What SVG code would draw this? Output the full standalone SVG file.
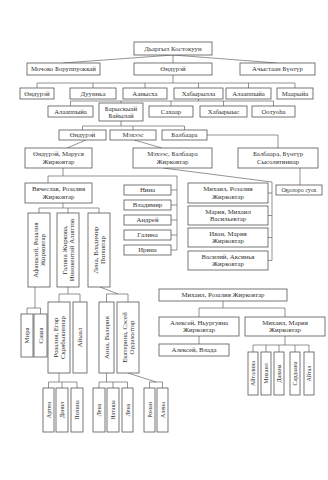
<svg xmlns="http://www.w3.org/2000/svg" width="328" height="480" viewBox="0 0 328 480">
<style>
rect{fill:#fff;stroke:#555;stroke-width:0.8}
text{font-family:"Liberation Serif","Times New Roman",serif;font-size:6.8px;fill:#333;text-anchor:middle}
.s{font-size:6px}
#connectors path{fill:none;stroke:#666;stroke-width:0.7}
</style>
<rect x="0" y="0" width="328" height="480" style="stroke:none"/>
<g id="connectors">
<path d="M173,55 L63,63 M173,55 V63 M173,55 L277,63"/>
<path d="M173,75 V83 M37,83 H295 M37,83 V88 M93,83 V88 M145,83 V88 M198.5,83 V88 M248.5,83 V88 M295,83 V88"/>
<path d="M198.5,99 V101 M70.5,101 H273.5 M70.5,101 V106 M121,101 V103 M171,101 V106 M223.5,101 V106 M273.5,101 V106"/>
<path d="M121,121 V126 M82.5,126 H184.5 M82.5,126 V130 M133,126 V130 M184.5,126 V130"/>
<path d="M207,135 H278 V148"/>
<path d="M86,140 L67,148 M134,140 L162,148"/>
<path d="M63,168 V176 M48,176 H177 M48,176 V183 M177,176 V250 M171,190 H177 M171,205 H177 M171,220 H177 M171,235 H177 M171,250 H177"/>
<path d="M163,168 L272,182 V260.5 M268,193 H272 M268,215.5 H272 M268,237.5 H272 M268,260.5 H272"/>
<path d="M300,168 V185"/>
<path d="M63,203 V208 M39,208 H99 M39,208 V213 M68,208 V213 M99,208 V213"/>
<path d="M35,287 V308 M27,308 H40.5 M27,308 V314 M40.5,308 V314"/>
<path d="M68,287 V294 M59,294 H80 M59,294 V302 M80,294 V302"/>
<path d="M100,287 L118,294 M106.5,294 H128 M106.5,294 V302 M128,294 V302"/>
<path d="M59,373 V382 M48.5,382 H77 M48.5,382 V388 M62,382 V388 M77,382 V388"/>
<path d="M106.5,373 V382 M99,382 H127.5 M99,382 V388 M113,382 V388 M127.5,382 V388"/>
<path d="M128,373 L156,382 M149.5,382 H162.5 M149.5,382 V388 M162.5,382 V388"/>
<path d="M223,301 V308 M199,308 H285 M199,308 V317 M285,308 V317"/>
<path d="M199,336 V344"/>
<path d="M285,336 V345 M253,345 H309 M253,345 V352 M266,345 V352 M279,345 V352 M295,345 V352 M309,345 V352"/>
</g>
<g id="n_root"><rect x="134" y="42" width="78" height="13"/><text x="173" y="50.9">Дьаргыл Костокуун</text></g>
<g id="n_mochoko"><rect x="27" y="63" width="73" height="12"/><text x="63.5" y="71.4">Мочоко Боруппуоккай</text></g>
<g id="n_ondurei"><rect x="134" y="63" width="78" height="12"/><text x="173" y="71.4">Өндүрэй</text></g>
<g id="n_achystaan"><rect x="240" y="63" width="75" height="12"/><text x="277.5" y="71.4">Ачыстаан Бүөтүр</text></g>
<g id="n_r3a"><rect x="20" y="88" width="34" height="11"/><text x="37" y="95.9">Өндүрэй</text></g>
<g id="n_r3b"><rect x="70" y="88" width="46" height="11"/><text x="93" y="95.9">Дуунньа</text></g>
<g id="n_r3c"><rect x="123" y="88" width="44" height="11"/><text x="145" y="95.9">Аанысха</text></g>
<g id="n_r3d"><rect x="174" y="88" width="49" height="11"/><text x="198.5" y="95.9">Хабырылла</text></g>
<g id="n_r3e"><rect x="226" y="88" width="45" height="11"/><text x="248.5" y="95.9">Алааппыйа</text></g>
<g id="n_r3f"><rect x="277" y="88" width="36" height="11"/><text x="295" y="95.9">Маарыйа</text></g>
<g id="n_r4a"><rect x="48" y="106" width="45" height="11"/><text x="70.5" y="113.9">Алааппыйа</text></g>
<g id="n_r4b"><rect x="99" y="103" width="44" height="18"/><text x="121" y="110.5">Барыскыай</text><text x="121" y="117.8">Байылай</text></g>
<g id="n_r4c"><rect x="149" y="106" width="44" height="11"/><text x="171" y="113.9">Сахаар</text></g>
<g id="n_r4d"><rect x="200" y="106" width="47" height="11"/><text x="223.5" y="113.9">Хабырыыс</text></g>
<g id="n_r4e"><rect x="252" y="106" width="43" height="11"/><text x="273.5" y="113.9">Оотуоһа</text></g>
<g id="n_r5a"><rect x="59" y="130" width="47" height="10"/><text x="82.5" y="137.4">Өндүрэй</text></g>
<g id="n_r5b"><rect x="110" y="130" width="46" height="10"/><text x="133" y="137.4">Мэхээс</text></g>
<g id="n_r5c"><rect x="162" y="130" width="45" height="10"/><text x="184.5" y="137.4">Балбаара</text></g>
<g id="n_r6a"><rect x="25" y="148" width="67" height="20"/><text x="58.5" y="156">Өндүрэй, Маруся</text><text x="58.5" y="163.8">Жирковтар</text></g>
<g id="n_r6b"><rect x="133" y="148" width="79" height="20"/><text x="172.5" y="156">Мэхээс, Балбаара</text><text x="172.5" y="163.8">Жирковтар</text></g>
<g id="n_r6c"><rect x="238" y="148" width="80" height="20"/><text x="278" y="156">Балбаара, Бүөтүр</text><text x="278" y="163.8">Сысолятиннар</text></g>
<g id="n_nochild"><rect x="276" y="185" width="46" height="10"/><text x="299" y="192.2" class="s">Оҕолоро суох</text></g>
<g id="n_vyach"><rect x="25" y="183" width="67" height="20"/><text x="58.5" y="191">Вячеслав, Розалия</text><text x="58.5" y="198.8">Жирковтар</text></g>
<g id="n_nina"><rect x="124" y="185" width="47" height="10"/><text x="147.5" y="192.4">Нина</text></g>
<g id="n_vladimir"><rect x="124" y="200" width="47" height="10"/><text x="147.5" y="207.4">Владимир</text></g>
<g id="n_andrei"><rect x="124" y="215" width="47" height="10"/><text x="147.5" y="222.4">Андрей</text></g>
<g id="n_galina"><rect x="124" y="230" width="47" height="10"/><text x="147.5" y="237.4">Галина</text></g>
<g id="n_irina"><rect x="124" y="245" width="47" height="10"/><text x="147.5" y="252.4">Ирина</text></g>
<g id="n_mikhail_r"><rect x="188" y="183" width="80" height="20"/><text x="228" y="191">Михаил, Розалия</text><text x="228" y="198.8">Жирковтар</text></g>
<g id="n_maria_m"><rect x="188" y="206" width="80" height="19"/><text x="228" y="213.5">Мария, Михаил</text><text x="228" y="221.2">Васильевтар</text></g>
<g id="n_ivan_m"><rect x="188" y="228" width="80" height="19"/><text x="228" y="235.5">Иван, Мария</text><text x="228" y="243.2">Жирковтар</text></g>
<g id="n_vasily_a"><rect x="188" y="251" width="80" height="19"/><text x="228" y="258.5">Василий, Аксинья</text><text x="228" y="266.2">Жирковтар</text></g>
<g id="n_afanasy"><rect x="28" y="213" width="22" height="74"/><g transform="translate(39,250) rotate(-90)"><text y="-1.3">Афанасий, Розалия</text><text y="6.3">Жирковтар</text></g></g>
<g id="n_galina_z"><rect x="57" y="213" width="22" height="74"/><g transform="translate(68,250) rotate(-90)"><text y="-1.3">Галина Жиркова,</text><text y="6.3">Иннокентий Алиптов</text></g></g>
<g id="n_lena_v"><rect x="88" y="213" width="22" height="74"/><g transform="translate(99,250) rotate(-90)"><text y="-1.3">Лена, Владимир</text><text y="6.3">Поповтар</text></g></g>
<g id="n_mira"><rect x="21" y="314" width="12" height="43"/><text transform="translate(27,335.5) rotate(-90)" y="2.3">Мира</text></g>
<g id="n_sasha"><rect x="34" y="314" width="13" height="43"/><text transform="translate(40.5,335.5) rotate(-90)" y="2.3">Саша</text></g>
<g id="n_rozalia_e"><rect x="48" y="302" width="22" height="71"/><g transform="translate(59,337.5) rotate(-90)"><text y="-1.3">Розалия, Егор</text><text y="6.3">Скрябыкиннар</text></g></g>
<g id="n_aiyal"><rect x="73" y="302" width="14" height="71"/><text transform="translate(80,337.5) rotate(-90)" y="2.3">Айыал</text></g>
<g id="n_anna"><rect x="99" y="302" width="15" height="71"/><text transform="translate(106.5,337.5) rotate(-90)" y="2.3">Анна, Валерия</text></g>
<g id="n_ekaterina"><rect x="117" y="302" width="22" height="71"/><g transform="translate(128,337.5) rotate(-90)"><text y="-1.3">Екатерина, Сэсей</text><text y="6.3">Ордахолтар</text></g></g>
<g id="n_artem"><rect x="43" y="388" width="11" height="44"/><text transform="translate(48.5,410) rotate(-90)" y="2.1" class="s">Артем</text></g>
<g id="n_danil"><rect x="56" y="388" width="12" height="44"/><text transform="translate(62,410) rotate(-90)" y="2.1" class="s">Данил</text></g>
<g id="n_polina"><rect x="71" y="388" width="12" height="44"/><text transform="translate(77,410) rotate(-90)" y="2.1" class="s">Полина</text></g>
<g id="n_lena1"><rect x="93" y="388" width="12" height="44"/><text transform="translate(99,410) rotate(-90)" y="2.1" class="s">Лена</text></g>
<g id="n_natasha"><rect x="107" y="388" width="12" height="44"/><text transform="translate(113,410) rotate(-90)" y="2.1" class="s">Наташа</text></g>
<g id="n_lena2"><rect x="122" y="388" width="11" height="44"/><text transform="translate(127.5,410) rotate(-90)" y="2.1" class="s">Лена</text></g>
<g id="n_roman"><rect x="144" y="388" width="11" height="44"/><text transform="translate(149.5,410) rotate(-90)" y="2.1" class="s">Роман</text></g>
<g id="n_alena"><rect x="157" y="388" width="11" height="44"/><text transform="translate(162.5,410) rotate(-90)" y="2.1" class="s">Алена</text></g>
<g id="n_mikhail_r2"><rect x="159" y="289" width="128" height="12"/><text x="223" y="297.4">Михаил, Розалия Жирковтар</text></g>
<g id="n_aleksei_n"><rect x="159" y="317" width="80" height="19"/><text x="199" y="324.5">Алексей, Ньургуяна</text><text x="199" y="332.2">Жирковтар</text></g>
<g id="n_mikhail_m"><rect x="245" y="317" width="80" height="19"/><text x="285" y="324.5">Михаил, Мария</text><text x="285" y="332.2">Жирковтар</text></g>
<g id="n_aleksei_v"><rect x="159" y="344" width="70" height="12"/><text x="194" y="352.4">Алексей, Влада</text></g>
<g id="n_aitalina"><rect x="248" y="352" width="10" height="43"/><text transform="translate(253,373.5) rotate(-90)" y="2" class="s">Айталина</text></g>
<g id="n_mikhail_c"><rect x="261" y="352" width="10" height="43"/><text transform="translate(266,373.5) rotate(-90)" y="2" class="s">Михаил</text></g>
<g id="n_dayana"><rect x="274" y="352" width="10" height="43"/><text transform="translate(279,373.5) rotate(-90)" y="2" class="s">Даяана</text></g>
<g id="n_sardaana"><rect x="290" y="352" width="10" height="43"/><text transform="translate(295,373.5) rotate(-90)" y="2" class="s">Сардаана</text></g>
<g id="n_aital"><rect x="304" y="352" width="10" height="43"/><text transform="translate(309,373.5) rotate(-90)" y="2" class="s">Айтал</text></g>
</svg>
